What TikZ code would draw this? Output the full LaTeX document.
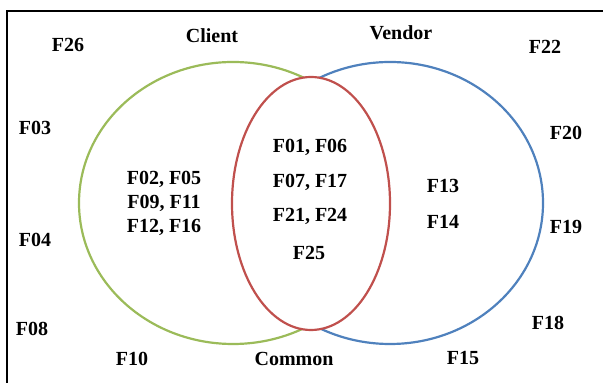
\documentclass[tikz,border=0pt]{standalone}
\usepackage{fontspec}
\setmainfont{Liberation Serif}
\usetikzlibrary{shapes.geometric}
\definecolor{vgreen}{HTML}{9BBB59}
\definecolor{vblue}{HTML}{4F81BD}
\definecolor{vred}{HTML}{C0504D}
\tikzset{
  setshape/.style={ellipse, draw, line width=1.1pt, inner sep=0pt},
  lbl/.style={font=\fontsize{10}{11.5}\selectfont\bfseries, inner sep=0pt, align=center},
  frameline/.style={line width=1pt, black}
}
\begin{document}
\begin{tikzpicture}[x=0.5pt, y=-0.5pt]
\useasboundingbox (0,0) rectangle (603,383);
\draw[frameline] (7,383) -- (7,11.5) -- (603,11.5);
\node[setshape, draw=vgreen, minimum width=154pt, minimum height=141pt] (client) at (233,203) {};
\node[setshape, draw=vblue, minimum width=153pt, minimum height=141pt] (vendor) at (390,203) {};
\node[setshape, draw=vred, fill=white, minimum width=79pt, minimum height=126.5pt] (common) at (311,203.5) {};
\node[lbl] (tclient) at (212,36) {Client};
\node[lbl] (tvendor) at (401,33) {Vendor};
\node[lbl] (tcommon) at (294,359) {Common};
\node[lbl] (f26) at (68,45) {F26};
\node[lbl] (f22) at (545,47) {F22};
\node[lbl] (f03) at (35,128) {F03};
\node[lbl] (f20) at (566,133) {F20};
\node[lbl] (f04) at (35,240) {F04};
\node[lbl] (f19) at (566,227) {F19};
\node[lbl] (f08) at (32,329) {F08};
\node[lbl] (f18) at (548,323) {F18};
\node[lbl] (f10) at (132,359) {F10};
\node[lbl] (f15) at (463,358) {F15};
\node[lbl] (ca) at (164,179) {F02, F05};
\node[lbl] (cb) at (164,203) {F09, F11};
\node[lbl] (cc) at (164,227) {F12, F16};
\node[lbl] (ma) at (310,147) {F01, F06};
\node[lbl] (mb) at (310,182) {F07, F17};
\node[lbl] (mc) at (310,216) {F21, F24};
\node[lbl] (md) at (309,253) {F25};
\node[lbl] (va) at (443,186) {F13};
\node[lbl] (vb) at (443,222) {F14};
\end{tikzpicture}
\end{document}
